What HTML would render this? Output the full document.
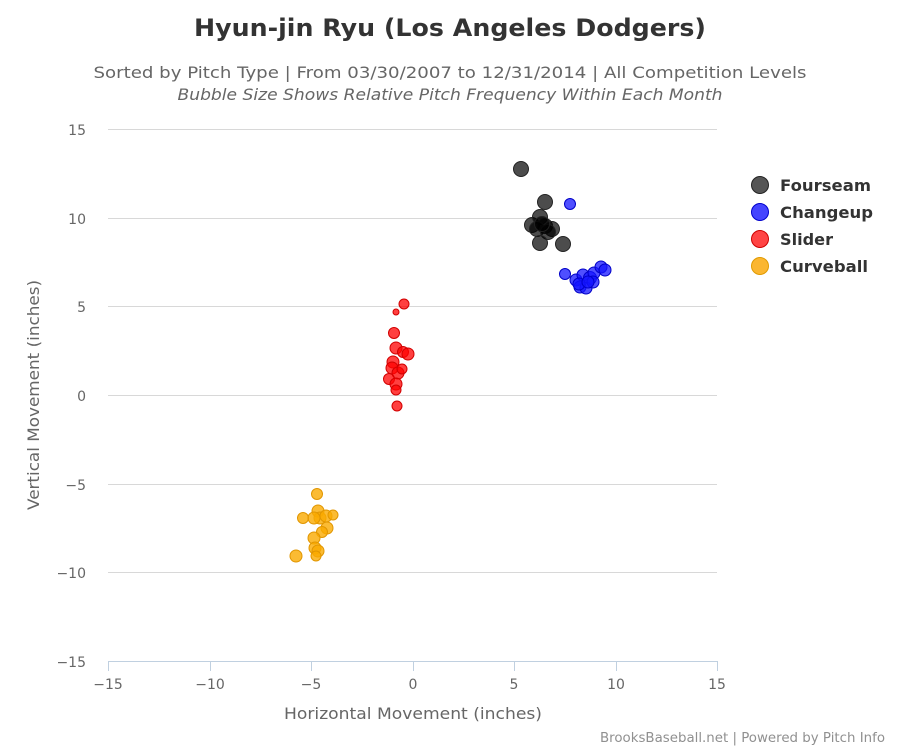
<!DOCTYPE html>
<html><head><style>body{margin:0;background:#fff}</style></head><body>
<svg width="900" height="750" xmlns="http://www.w3.org/2000/svg" font-family="DejaVu Sans, Liberation Sans, sans-serif">
<rect width="900" height="750" fill="#fff"/>
<text x="450" y="36" text-anchor="middle" font-size="24" font-weight="bold" fill="#333" textLength="512" lengthAdjust="spacingAndGlyphs">Hyun-jin Ryu (Los Angeles Dodgers)</text>
<text x="450" y="78" text-anchor="middle" font-size="16" fill="#666" textLength="713" lengthAdjust="spacingAndGlyphs">Sorted by Pitch Type | From 03/30/2007 to 12/31/2014 | All Competition Levels</text>
<text x="450" y="100" text-anchor="middle" font-size="16" font-style="italic" fill="#666" textLength="545" lengthAdjust="spacingAndGlyphs">Bubble Size Shows Relative Pitch Frequency Within Each Month</text>
<g stroke="#d8d8d8" stroke-width="1">
<line x1="108" x2="717" y1="129.5" y2="129.5"/><line x1="108" x2="717" y1="218.5" y2="218.5"/><line x1="108" x2="717" y1="306.5" y2="306.5"/><line x1="108" x2="717" y1="395.5" y2="395.5"/><line x1="108" x2="717" y1="484.5" y2="484.5"/><line x1="108" x2="717" y1="572.5" y2="572.5"/>
</g>
<line x1="108" x2="717" y1="661.5" y2="661.5" stroke="#c0d0e0"/>
<g stroke="#c0d0e0"><line x1="108.5" x2="108.5" y1="661" y2="671"/><line x1="210.5" x2="210.5" y1="661" y2="671"/><line x1="311.5" x2="311.5" y1="661" y2="671"/><line x1="413.5" x2="413.5" y1="661" y2="671"/><line x1="514.5" x2="514.5" y1="661" y2="671"/><line x1="616.5" x2="616.5" y1="661" y2="671"/><line x1="717.5" x2="717.5" y1="661" y2="671"/></g>
<g font-size="14" fill="#666" text-anchor="end">
<text x="86" y="135">15</text><text x="86" y="224">10</text><text x="86" y="312">5</text><text x="86" y="401">0</text><text x="86" y="490">−5</text><text x="86" y="578">−10</text><text x="86" y="667">−15</text></g>
<g font-size="14" fill="#666" text-anchor="middle">
<text x="108" y="689">−15</text><text x="210" y="689">−10</text><text x="311" y="689">−5</text><text x="413" y="689">0</text><text x="514" y="689">5</text><text x="616" y="689">10</text><text x="717" y="689">15</text></g>
<text x="413" y="719" text-anchor="middle" font-size="16" fill="#666" textLength="258" lengthAdjust="spacingAndGlyphs">Horizontal Movement (inches)</text>
<text transform="translate(39,395) rotate(-90)" text-anchor="middle" font-size="16" fill="#666" textLength="230" lengthAdjust="spacingAndGlyphs">Vertical Movement (inches)</text>
<g fill="rgb(250,170,0)" fill-opacity="0.8" stroke="rgb(225,150,0)" stroke-width="1">
<circle cx="317" cy="494" r="5.5"/><circle cx="303" cy="518" r="5.5"/><circle cx="318" cy="511" r="6"/><circle cx="320" cy="518" r="6"/><circle cx="314" cy="518" r="6"/><circle cx="326" cy="516" r="6"/><circle cx="333" cy="515" r="5"/><circle cx="327" cy="528" r="6"/><circle cx="322" cy="532" r="5.5"/><circle cx="314" cy="538" r="6"/><circle cx="315" cy="548" r="6"/><circle cx="318" cy="551" r="6"/><circle cx="316" cy="556" r="5"/><circle cx="296" cy="556" r="6"/></g>
<g fill="rgb(255,0,0)" fill-opacity="0.75" stroke="rgb(210,0,0)" stroke-width="1">
<circle cx="404" cy="304" r="5"/><circle cx="396" cy="312" r="3"/><circle cx="394" cy="333" r="5.5"/><circle cx="396" cy="348" r="6"/><circle cx="403" cy="352" r="5.5"/><circle cx="408" cy="354" r="6"/><circle cx="393" cy="362" r="6"/><circle cx="392" cy="368" r="6"/><circle cx="398" cy="373" r="6"/><circle cx="402" cy="369" r="5"/><circle cx="389" cy="379" r="5.5"/><circle cx="396" cy="384" r="6"/><circle cx="396" cy="390" r="5"/><circle cx="397" cy="406" r="5"/></g>
<g fill="rgb(20,20,255)" fill-opacity="0.75" stroke="rgb(0,0,200)" stroke-width="1">
<circle cx="570" cy="204" r="5.5"/><circle cx="565" cy="274" r="5.5"/><circle cx="576" cy="280" r="6"/><circle cx="583" cy="275" r="6"/><circle cx="590" cy="278" r="6.5"/><circle cx="594" cy="273" r="6"/><circle cx="601" cy="267" r="6"/><circle cx="605" cy="270" r="6"/><circle cx="580" cy="287" r="6"/><circle cx="586" cy="288" r="6"/><circle cx="593" cy="282" r="6"/><circle cx="579" cy="284" r="6"/><circle cx="588" cy="282" r="6"/></g>
<g fill="rgb(0,0,0)" fill-opacity="0.7" stroke="#222" stroke-width="1">
<circle cx="521" cy="169" r="7.5"/><circle cx="545" cy="202" r="7.5"/><circle cx="532" cy="225" r="7.5"/><circle cx="540" cy="217" r="7.5"/><circle cx="545" cy="226" r="7.5"/><circle cx="552" cy="229" r="7.5"/><circle cx="537" cy="229" r="7.5"/><circle cx="548" cy="232" r="7.5"/><circle cx="540" cy="243" r="7.5"/><circle cx="563" cy="244" r="7.5"/><circle cx="542" cy="224" r="7.5"/></g>
<g font-size="16" font-weight="bold" fill="#333">
<circle cx="760" cy="185" r="8.5" fill="#555" stroke="#222"/><text x="780" y="191" textLength="91" lengthAdjust="spacingAndGlyphs">Fourseam</text>
<circle cx="760" cy="212" r="8.5" fill="#4444ff" stroke="#0000cc"/><text x="780" y="218" textLength="93" lengthAdjust="spacingAndGlyphs">Changeup</text>
<circle cx="760" cy="239" r="8.5" fill="#ff4444" stroke="#cc0000"/><text x="780" y="245" textLength="53" lengthAdjust="spacingAndGlyphs">Slider</text>
<circle cx="760" cy="266" r="8.5" fill="#fbb630" stroke="#e09a00"/><text x="780" y="272" textLength="88" lengthAdjust="spacingAndGlyphs">Curveball</text></g>
<text x="885" y="742" text-anchor="end" font-size="13" fill="#909090" textLength="285" lengthAdjust="spacingAndGlyphs">BrooksBaseball.net | Powered by Pitch Info</text>
</svg>
</body></html>
